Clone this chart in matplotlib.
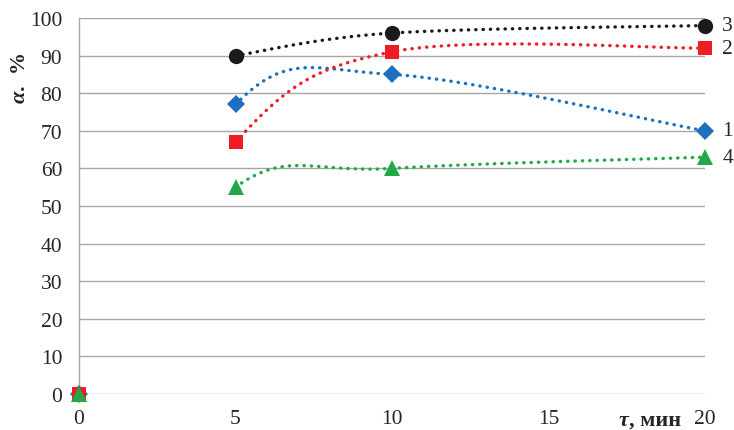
import numpy as np
import matplotlib
matplotlib.use("Agg")
import matplotlib.pyplot as plt

# Data
x_vals = [0, 5, 10, 20]
series_names = ["1", "2", "3", "4"]
s1 = [0, 77, 85, 70]      # blue diamonds
s2 = [0, 67, 91, 92]      # red squares
s3_x = [5, 10, 20]
s3 = [90, 96, 98]         # black circles
s4 = [0, 55, 60, 63]      # green triangles
x_ticks = [0, 5, 10, 15, 20]
y_ticks = [0, 10, 20, 30, 40, 50, 60, 70, 80, 90, 100]

plt.rcParams['font.family'] = ['Liberation Serif', 'DejaVu Serif']

W, H = 734, 431
fig = plt.figure(figsize=(W / 100, H / 100), dpi=100)
ax = fig.add_axes([79 / W, (431 - 395) / H, 626 / W, 376 / H])
ax.set_xlim(0, 20)
ax.set_ylim(0, 100)

AXW, AXH = 626.0, 376.0


def smooth(xs, ys, start_x, n=60):
    # Excel-like Catmull-Rom Bezier smoothing computed in pixel space
    P = np.array([[x / 20 * AXW, y / 100 * AXH] for x, y in zip(xs, ys)])
    out = []
    m = len(P)
    for i in range(m - 1):
        p0 = P[i - 1] if i > 0 else P[i]
        p1 = P[i]
        p2 = P[i + 1]
        p3 = P[i + 2] if i + 2 < m else P[i + 1]
        b1 = p1 + (p2 - p0) / 6
        b2 = p2 - (p3 - p1) / 6
        t = np.linspace(0, 1, n)[:, None]
        seg = ((1 - t) ** 3) * p1 + 3 * ((1 - t) ** 2) * t * b1 + 3 * (1 - t) * t ** 2 * b2 + t ** 3 * p2
        if xs[i] >= start_x:
            out.append(seg)
    pts = np.vstack(out)
    return pts[:, 0] / AXW * 20, pts[:, 1] / AXH * 100


grid_c = "#A6A6A6"
for y in y_ticks:
    ax.axhline(y, color=grid_c, lw=1.0, zorder=0)
for s in ["top", "right", "bottom"]:
    ax.spines[s].set_visible(False)
ax.spines["left"].set_color(grid_c)
ax.spines["left"].set_linewidth(1.0)

ls = dict(lw=2.4, linestyle=(0, (0.1, 2.1)), dash_capstyle="round", zorder=2)

blue, red, green, black = "#1F6FC0", "#EE1C25", "#22A84A", "#1A1A1A"

bx, by = smooth(x_vals, s1, 5)
ax.plot(bx, by, color=blue, **ls)
rx, ry = smooth(x_vals, s2, 5)
ax.plot(rx, ry, color=red, **ls)
kx, ky = smooth(s3_x, s3, 5)
ax.plot(kx, ky, color=black, **ls)
gx, gy = smooth(x_vals, s4, 5)
ax.plot(gx, gy, color=green, **ls)

ax.plot(x_vals, s1, "D", color=blue, ms=9.5, mew=0, clip_on=False, zorder=3)
ax.plot(x_vals, s2, "s", color=red, ms=10, mew=0, clip_on=False, zorder=4)
ax.plot(s3_x, s3, "o", color=black, ms=11, mew=0, clip_on=False, zorder=3)
ax.plot(x_vals, s4, "^", color=green, ms=11.5, mew=0, clip_on=False, zorder=5)

txt_c = "#262626"
FS = 15.5
# series labels at right end
ends = [s1[-1], s2[-1], s3[-1], s4[-1]]
for name, yv in zip(series_names, ends):
    ax.text(20.55, yv, name, fontsize=FS, color=txt_c, va="center", ha="left")

ax.set_xticks(x_ticks)
ax.set_yticks(y_ticks)
ax.tick_params(axis="both", length=0, labelsize=FS, colors=txt_c)
ax.tick_params(axis="x", pad=11)
ax.tick_params(axis="y", pad=12)
ax.set_xticklabels([str(v) for v in x_ticks])
ax.set_yticklabels([str(v) for v in y_ticks])

fig.canvas.draw()
r = fig.canvas.get_renderer()

LFS = 16
# x-axis label: bold italic tau + bold ", мин"
t_rest = fig.text(681 / W, 1 - 426 / H, ", мин", fontsize=LFS, fontweight="bold",
                  ha="right", va="baseline", color=txt_c)
bb = t_rest.get_window_extent(r)
fig.text(bb.x0 / W, 1 - 426 / H, "τ", fontsize=LFS, fontweight="bold", style="italic",
         ha="right", va="baseline", color=txt_c)

# y-axis label: bold alpha + bold ". %" (rotated)
t_a = fig.text(25 / W, 1 - 103 / H, "α", fontsize=LFS, fontweight="bold", style="italic",
               ha="left", va="baseline", rotation=90, rotation_mode="anchor", color=txt_c)
bb2 = t_a.get_window_extent(r)
fig.text(25 / W, bb2.y1 / H, ".  %", fontsize=LFS, fontweight="bold",
         ha="left", va="baseline", rotation=90, rotation_mode="anchor", color=txt_c)

fig.savefig("out.png", dpi=100)
